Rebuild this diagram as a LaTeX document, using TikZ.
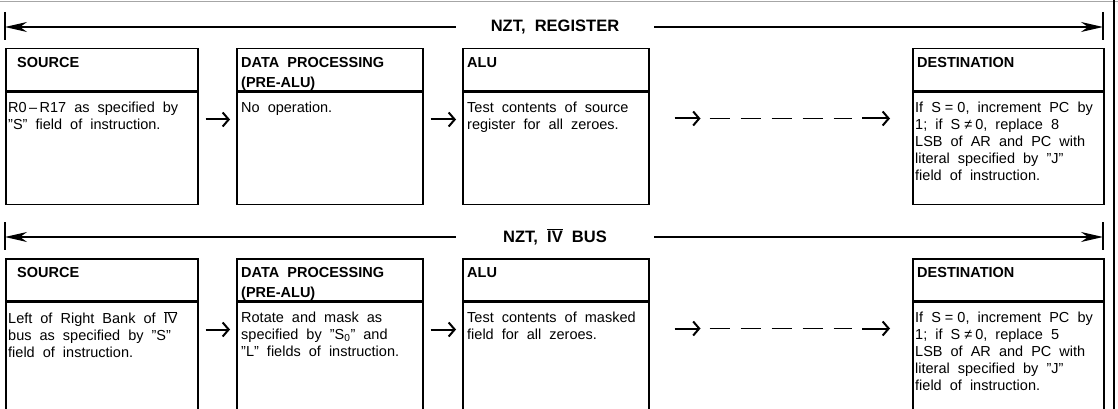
\documentclass[tikz,border=0pt]{standalone}
\usepackage{fontspec}
\setmainfont{Liberation Sans}[WordSpace=2.0]
\usetikzlibrary{arrows.meta}
\tikzset{
  hbox/.style={draw, line width=1.5pt, anchor=north west, inner sep=0pt, minimum height=42pt},
  bbox/.style={draw, line width=1.5pt, anchor=north west, inner sep=0pt},
  htxt/.style={anchor=north west, inner sep=0pt, align=left, font=\fontsize{14.5}{20}\selectfont\bfseries},
  btxt/.style={anchor=north west, inner sep=0pt, align=left, font=\fontsize{14.5}{17}\selectfont},
  buslabel/.style={fill=white, inner sep=0pt, minimum width=198pt, minimum height=20pt, font=\fontsize{16.5}{20}\selectfont\bfseries},
  busline/.style={line width=1.2pt, -{Stealth[length=22pt, width=10pt, inset=7pt]}},
  stepar/.style={line width=2pt, -{Straight Barb[length=6pt, width=14pt, line width=2pt]}},
  gapdash/.style={line width=1.8pt, dash pattern=on 20pt off 11pt}
}
\newcommand{\ovbar}[1]{$\overline{\hbox{#1}}$}
\begin{document}
\begin{tikzpicture}[x=1pt, y=-1pt]
		%%%%% FRAME %%%%%
		\useasboundingbox (0,0) rectangle (1118,409);
		\clip (0,0) rectangle (1118,409);
		\draw[line width=0.8pt, color=black!35] (0,1.5) -- (1118,1.5);
		\draw[line width=1.3pt] (1114,0) -- (1114,409);
		
		%%%%% NZT, REGISTER %%%%%
		\draw[line width=1.3pt] (5,12) -- (5,40);
		\draw[line width=1.3pt] (1103,12) -- (1103,40);
		\coordinate (busL1) at (5,27);
		\coordinate (busR1) at (1103,27);
		\node[buslabel] (lab1) at (555,27) {NZT, REGISTER};
		\draw[busline] (lab1.west) -- (busL1);
		\draw[busline] (lab1.east) -- (busR1);
		
		\node[hbox, minimum width=192pt] (srcH1) at (5,48) {};
		\node[bbox, minimum width=192pt, minimum height=112pt] (srcB1) at (srcH1.south west) {};
		\node[hbox, minimum width=186pt] (dpH1) at (236,48) {};
		\node[bbox, minimum width=186pt, minimum height=112pt] (dpB1) at (dpH1.south west) {};
		\node[hbox, minimum width=186pt] (aluH1) at (462,48) {};
		\node[bbox, minimum width=186pt, minimum height=112pt] (aluB1) at (aluH1.south west) {};
		\node[hbox, minimum width=191pt] (dstH1) at (912,48) {};
		\node[bbox, minimum width=191pt, minimum height=112pt] (dstB1) at (dstH1.south west) {};
		
		\node[htxt] at ([xshift=12pt,yshift=-9pt]srcH1.north west) {SOURCE};
		\node[htxt] at ([xshift=5pt,yshift=-9pt]dpH1.north west) {DATA PROCESSING\\(PRE-ALU)};
		\node[htxt] at ([xshift=5pt,yshift=-9pt]aluH1.north west) {ALU};
		\node[htxt] at ([xshift=5pt,yshift=-9pt]dstH1.north west) {DESTINATION};
		
		\node[btxt] at ([xshift=3pt,yshift=-10pt]srcB1.north west) {R0\,--\,R17 as specified by\\''S'' field of instruction.};
		\node[btxt] at ([xshift=5pt,yshift=-10pt]dpB1.north west) {No operation.};
		\node[btxt] at ([xshift=5pt,yshift=-10pt]aluB1.north west) {Test contents of source\\register for all zeroes.};
		\node[btxt] at ([xshift=3pt,yshift=-10pt]dstB1.north west) {If S\hspace{4pt}=\hspace{4pt}0, increment PC by\\1; if S\hspace{4pt}≠\hspace{3pt}0, replace 8\\LSB of AR and PC with\\literal specified by ''J''\\field of instruction.};
		
		\draw[stepar, shorten <=7pt, shorten >=6pt] ([yshift=-28pt]srcB1.north east) -- ([yshift=-28pt]dpB1.north west);
		\draw[stepar, shorten <=7pt, shorten >=6pt] ([yshift=-28pt]dpB1.north east) -- ([yshift=-28pt]aluB1.north west);
		\draw[stepar] ([xshift=25pt,yshift=-27pt]aluB1.north east) -- ([xshift=51pt,yshift=-27pt]aluB1.north east);
		\draw[gapdash] ([xshift=60pt,yshift=-27pt]aluB1.north east) -- ([xshift=-60pt,yshift=-27pt]dstB1.north west);
		\draw[stepar] ([xshift=-50pt,yshift=-27pt]dstB1.north west) -- ([xshift=-22pt,yshift=-27pt]dstB1.north west);
		
		%%%%% NZT, IV BUS %%%%%
		\draw[line width=1.3pt] (5,222) -- (5,250);
		\draw[line width=1.3pt] (1103,222) -- (1103,250);
		\coordinate (busL2) at (5,237);
		\coordinate (busR2) at (1103,237);
		\node[buslabel] (lab2) at (555,237) {NZT, \ovbar{IV} BUS};
		\draw[busline] (lab2.west) -- (busL2);
		\draw[busline] (lab2.east) -- (busR2);
		
		\node[hbox, minimum width=192pt] (srcH2) at (5,258) {};
		\node[bbox, minimum width=192pt, minimum height=120pt] (srcB2) at (srcH2.south west) {};
		\node[hbox, minimum width=186pt] (dpH2) at (236,258) {};
		\node[bbox, minimum width=186pt, minimum height=120pt] (dpB2) at (dpH2.south west) {};
		\node[hbox, minimum width=186pt] (aluH2) at (462,258) {};
		\node[bbox, minimum width=186pt, minimum height=120pt] (aluB2) at (aluH2.south west) {};
		\node[hbox, minimum width=191pt] (dstH2) at (912,258) {};
		\node[bbox, minimum width=191pt, minimum height=120pt] (dstB2) at (dstH2.south west) {};
		
		\node[htxt] at ([xshift=12pt,yshift=-9pt]srcH2.north west) {SOURCE};
		\node[htxt] at ([xshift=5pt,yshift=-9pt]dpH2.north west) {DATA PROCESSING\\(PRE-ALU)};
		\node[htxt] at ([xshift=5pt,yshift=-9pt]aluH2.north west) {ALU};
		\node[htxt] at ([xshift=5pt,yshift=-9pt]dstH2.north west) {DESTINATION};
		
		\node[btxt] at ([xshift=3pt,yshift=-10pt]srcB2.north west) {Left of Right Bank of \ovbar{IV}\\bus as specified by ''S''\\field of instruction.};
		\node[btxt] at ([xshift=5pt,yshift=-10pt]dpB2.north west) {Rotate and mask as\\specified by ''S\textsubscript{0}'' and\\''L'' fields of instruction.};
		\node[btxt] at ([xshift=5pt,yshift=-10pt]aluB2.north west) {Test contents of masked\\field for all zeroes.};
		\node[btxt] at ([xshift=3pt,yshift=-10pt]dstB2.north west) {If S\hspace{4pt}=\hspace{4pt}0, increment PC by\\1; if S\hspace{4pt}≠\hspace{3pt}0, replace 5\\LSB of AR and PC with\\literal specified by ''J''\\field of instruction.};
		
		\draw[stepar, shorten <=7pt, shorten >=6pt] ([yshift=-28pt]srcB2.north east) -- ([yshift=-28pt]dpB2.north west);
		\draw[stepar, shorten <=7pt, shorten >=6pt] ([yshift=-28pt]dpB2.north east) -- ([yshift=-28pt]aluB2.north west);
		\draw[stepar] ([xshift=25pt,yshift=-27pt]aluB2.north east) -- ([xshift=51pt,yshift=-27pt]aluB2.north east);
		\draw[gapdash] ([xshift=60pt,yshift=-27pt]aluB2.north east) -- ([xshift=-60pt,yshift=-27pt]dstB2.north west);
		\draw[stepar] ([xshift=-50pt,yshift=-27pt]dstB2.north west) -- ([xshift=-22pt,yshift=-27pt]dstB2.north west);
		
		%%%%% END %%%%%
\end{tikzpicture}
\end{document}
